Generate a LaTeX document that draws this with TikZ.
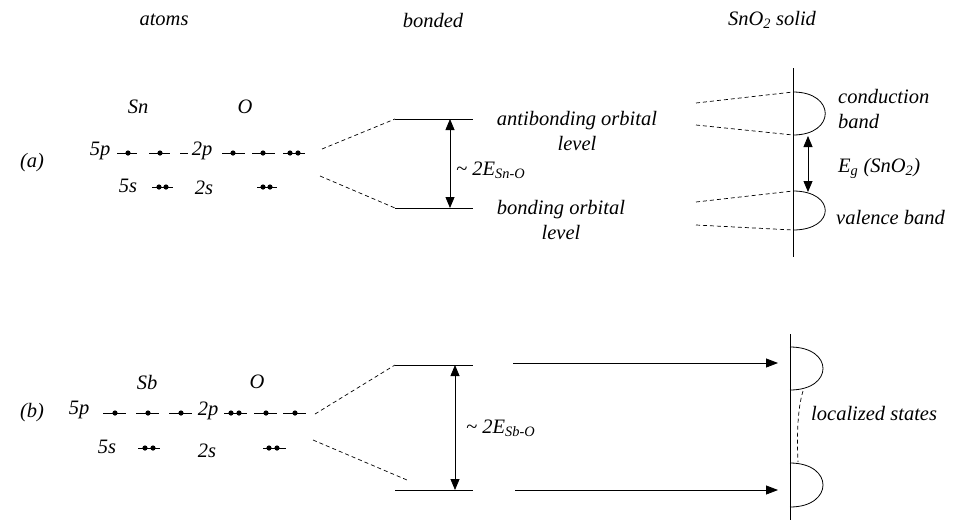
\documentclass[tikz,border=0pt]{standalone}
\usepackage{fontspec}
\setmainfont{Liberation Serif}
\usetikzlibrary{arrows.meta}
\newcommand\mylev[3]{\draw[lvl] (#1,#3) -- (#2,#3);}
\newcommand\myel[2]{\fill (#1,#2) circle (2.6pt);}
\begin{document}
\begin{tikzpicture}[x=1pt,y=-1pt,
  lbl/.style={font=\fontsize{20.5}{25}\selectfont\itshape, inner sep=0pt},
  lvl/.style={line width=0.8pt},
  dsh/.style={dash pattern=on 4pt off 3pt, line width=0.7pt},
  dbl/.style={{Triangle[length=11pt,width=9pt]}-{Triangle[length=11pt,width=9pt]}, line width=0.8pt},
  sarr/.style={-{Triangle[length=12pt,width=9pt]}, line width=0.8pt},
  band/.style={line width=0.8pt}
]
\useasboundingbox (0,0) rectangle (953,520);

% titles
\node[lbl] (tatoms) at (164,20) {atoms};
\node[lbl] (tbond) at (433,20) {bonded};
\node[lbl] (tsolid) at (772,20) {SnO\textsubscript{2} solid};

% ---------------- (a) ----------------
\node[lbl] (la) at (32,163) {(a)};
\node[lbl] (sn) at (138,107) {Sn};
\node[lbl] (oa) at (245,107) {O};
\node[lbl] (a5p) at (100,151) {5p};
\node[lbl] (a2p) at (202,151) {2p};
\node[lbl] (a5s) at (128,186) {5s};
\node[lbl] (a2s) at (204,188) {2s};

\mylev{117}{137}{153} \myel{128}{153}
\mylev{149}{170}{153} \myel{160}{153}
\mylev{180}{188}{153}
\mylev{222}{245}{153} \myel{233}{153}
\mylev{252}{275}{153} \myel{263}{153}
\mylev{283}{305}{153} \myel{290}{153}\myel{298}{153}
\mylev{152}{173}{187} \myel{159}{187}\myel{166}{187}
\mylev{257}{277}{187} \myel{263}{187}\myel{270}{187}

% bonded levels
\coordinate (aABl) at (395,119); \coordinate (aABr) at (473,119);
\coordinate (aBl) at (395,208);  \coordinate (aBr) at (473,208);
\draw[lvl] (aABl) -- (aABr);
\draw[lvl] (aBl) -- (aBr);
\coordinate (aup0) at (322,149);
\coordinate (alo0) at (320,176);
\draw[dsh] (aup0) -- (aABl);
\draw[dsh] (alo0) -- (aBl);
\coordinate (aarT) at (450,119); \coordinate (aarB) at (450,208);
\draw[dbl] (aarT) -- (aarB);
\node[lbl, anchor=west] (aE) at (456,170) {\textasciitilde\ 2E\textsubscript{Sn-O}};
\node[lbl, align=center] (aab) at (577,131) {antibonding orbital\\level};
\node[lbl, align=center] (abo) at (561,220) {bonding orbital\\level};

% solid
\coordinate (avT) at (793,68); \coordinate (avB) at (793,257);
\draw[lvl] (avT) -- (avB);
\coordinate (cbT) at (793,92); \coordinate (cbB) at (793,135);
\coordinate (vbT) at (793,191); \coordinate (vbB) at (793,230);
\draw[band] (cbT) .. controls (836,92) and (836,135) .. (cbB);
\draw[band] (vbT) .. controls (836,191) and (836,230) .. (vbB);
\coordinate (c1) at (696,103); \coordinate (c2) at (696,125);
\coordinate (v1) at (696,202); \coordinate (v2) at (696,225);
\draw[dsh] (c1) -- (cbT);
\draw[dsh] (c2) -- (cbB);
\draw[dsh] (v1) -- (vbT);
\draw[dsh] (v2) -- (vbB);
\coordinate (egT) at (808,136); \coordinate (egB) at (808,192);
\draw[dbl] (egT) -- (egB);
\node[lbl, anchor=west, align=left] (cond) at (838,109) {conduction\\band};
\node[lbl, anchor=west] (eg) at (838,168) {E\textsubscript{g} (SnO\textsubscript{2})};
\node[lbl, anchor=west] (val) at (836,217) {valence band};

% ---------------- (b) ----------------
\node[lbl] (lb) at (32,413) {(b)};
\node[lbl] (sb) at (147,382) {Sb};
\node[lbl] (ob) at (257,382) {O};
\node[lbl] (b5p) at (79,410) {5p};
\node[lbl] (b2p) at (208,411) {2p};
\node[lbl] (b5s) at (107,447) {5s};
\node[lbl] (b2s) at (207,451) {2s};

\mylev{103}{126}{413} \myel{115}{413}
\mylev{136}{159}{413} \myel{148}{413}
\mylev{169}{192}{413} \myel{181}{413}
\mylev{224}{247}{413} \myel{231}{413}\myel{239}{413}
\mylev{254}{277}{413} \myel{266}{413}
\mylev{283}{306}{413} \myel{295}{413}
\mylev{138}{160}{448} \myel{145}{448}\myel{153}{448}
\mylev{263}{286}{448} \myel{269}{448}\myel{277}{448}

\coordinate (bTl) at (395,365); \coordinate (bTr) at (473,365);
\coordinate (bBl) at (395,490); \coordinate (bBr) at (473,490);
\draw[lvl] (bTl) -- (bTr);
\draw[lvl] (bBl) -- (bBr);
\coordinate (bup0) at (315,414);
\coordinate (blo0) at (313,440); \coordinate (blo1) at (407,480);
\draw[dsh] (bup0) -- (bTl);
\draw[dsh] (blo0) -- (blo1);
\coordinate (barT) at (455,365); \coordinate (barB) at (455,490);
\draw[dbl] (barT) -- (barB);
\node[lbl, anchor=west] (bE) at (466,428) {\textasciitilde\ 2E\textsubscript{Sb-O}};

\coordinate (h1s) at (513,363); \coordinate (h1e) at (778,363);
\coordinate (h2s) at (515,490); \coordinate (h2e) at (778,490);
\draw[sarr] (h1s) -- (h1e);
\draw[sarr] (h2s) -- (h2e);

\coordinate (bvT) at (790,334); \coordinate (bvB) at (790,520);
\draw[lvl] (bvT) -- (bvB);
\coordinate (ubT) at (790,347); \coordinate (ubB) at (790,390);
\coordinate (lbT) at (790,463); \coordinate (lbB) at (790,507);
\draw[band] (ubT) .. controls (834,347) and (834,390) .. (ubB);
\draw[band] (lbT) .. controls (834,463) and (834,507) .. (lbB);
\coordinate (ls1) at (803,391); \coordinate (ls2) at (798,462);
\draw[dsh] (ls1) .. controls (797,410) and (797,440) .. (ls2);
\node[lbl, anchor=west] (loc) at (811,413) {localized states};
\end{tikzpicture}
\end{document}
